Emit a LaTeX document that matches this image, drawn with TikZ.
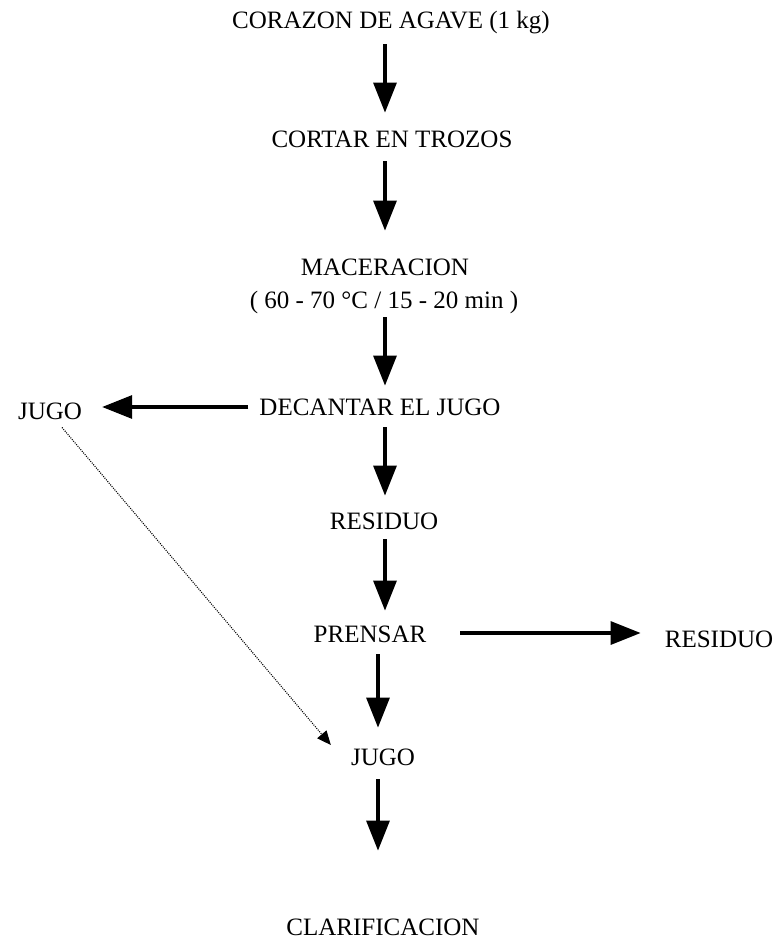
\documentclass[tikz,border=0pt]{standalone}
\usepackage{fontspec}
\setmainfont{Liberation Serif}
\usetikzlibrary{arrows.meta}
\begin{document}
\begin{tikzpicture}[x=1pt,y=-1pt,
  lbl/.style={inner sep=0pt,text height=16.5pt,text depth=0pt,font=\fontsize{25}{28}\selectfont},
  flow/.style={line width=3.2pt,-{Triangle[width=23pt,length=30pt]}},
  dotflow/.style={line width=1.1pt,dash pattern=on 1pt off 1.2pt,-{Triangle[width=12pt,length=14pt]}}]
\useasboundingbox[fill=white] (0,0) rectangle (777,951);
\coordinate (c1) at (385,0);
\coordinate (c2) at (378,0);
\node[lbl] (a) at (391,20) {CORAZON DE AGAVE (1 kg)};
\node[lbl] (b) at (392,139) {CORTAR EN TROZOS};
\node[lbl] (c) at (385,267) {MACERACION};
\node[lbl] (d) at (384,300) {( 60 - 70 °C / 15 - 20 min )};
\node[lbl] (e) at (380,407) {DECANTAR EL JUGO};
\node[lbl] (j1) at (50,411) {JUGO};
\node[lbl] (f) at (384,521) {RESIDUO};
\node[lbl] (g) at (370,634) {PRENSAR};
\node[lbl] (r2) at (719,639) {RESIDUO};
\node[lbl] (h) at (383,757) {JUGO};
\node[lbl] (i) at (383,927) {CLARIFICACION};
\draw[flow,shorten <=16pt,shorten >=18pt] (a.south -| c1) -- (b.north -| c1);
\draw[flow,shorten <=14pt,shorten >=28pt] (b.south -| c1) -- (c.north -| c1);
\draw[flow,shorten <=9pt,shorten >=13pt] (d.south -| c1) -- (e.north -| c1);
\draw[flow,shorten <=11pt,shorten >=20pt] (e.west) -- (e.west -| j1.east);
\draw[flow,shorten <=12pt,shorten >=17pt] (e.south -| c1) -- (f.north -| c1);
\draw[flow,shorten <=10pt,shorten >=15pt] (f.south -| c1) -- (g.north -| c1);
\draw[flow,shorten <=34pt,shorten >=24pt] (g.east |- 0,633) -- (r2.west |- 0,633);
\draw[flow,shorten <=12pt,shorten >=21pt] (g.south -| c2) -- (h.north -| c2);
\draw[flow,shorten <=14pt,shorten >=68pt] (h.south -| c2) -- (i.north -| c2);
\draw[dotflow] ([xshift=12pt,yshift=-8pt]j1.south) -- ([xshift=-20pt,yshift=12pt]h.west);
\end{tikzpicture}
\end{document}
